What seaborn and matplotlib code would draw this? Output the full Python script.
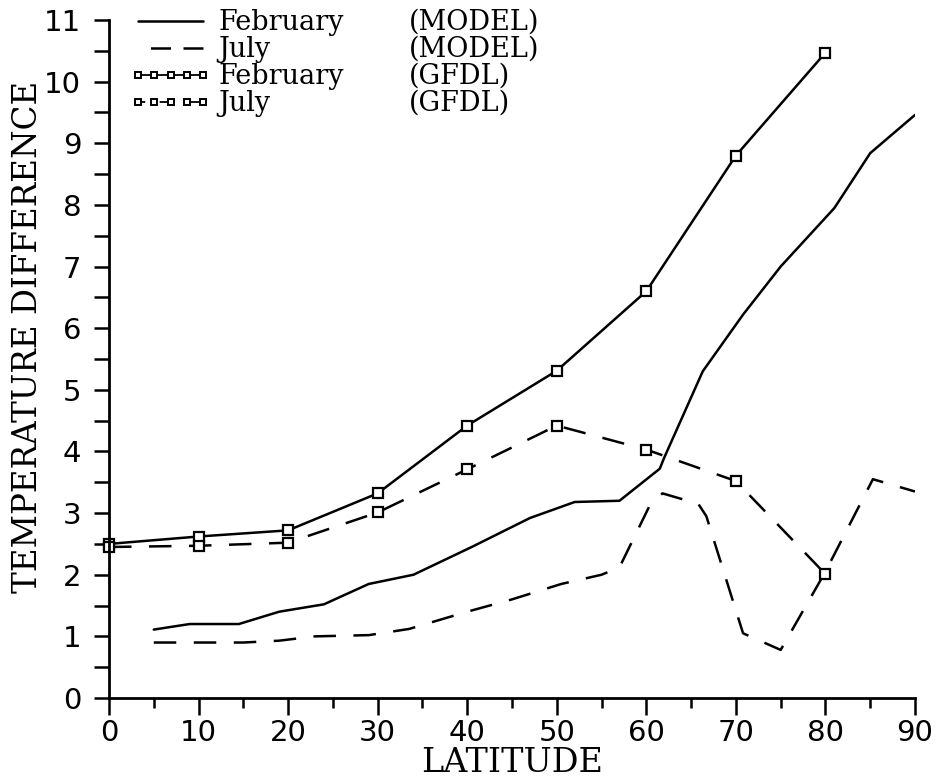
import matplotlib
matplotlib.use("Agg")
import matplotlib.pyplot as plt
from matplotlib.lines import Line2D
from matplotlib.ticker import MultipleLocator
import seaborn as sns

# Model curves (latitude, temperature difference)
feb_model_lat = [5, 9, 14.5, 19, 24, 29, 34, 40.5, 47, 52, 57, 61.5, 62, 66.3, 70.8, 75, 81, 85, 90]
feb_model_dt = [1.11, 1.2, 1.2, 1.4, 1.52, 1.85, 2.0, 2.45, 2.92, 3.18, 3.2, 3.72, 3.9, 5.3, 6.22, 7.0, 7.95, 8.84, 9.46]

jul_model_lat = [5, 15, 19, 23, 29, 33.5, 40, 45, 50.5, 55, 57, 60.3, 61.8, 65.8, 66.7, 70.8, 75, 80, 85.3, 90]
jul_model_dt = [0.9, 0.9, 0.93, 1.0, 1.02, 1.12, 1.4, 1.6, 1.85, 2.0, 2.12, 3.1, 3.32, 3.15, 2.95, 1.05, 0.78, 2.05, 3.55, 3.35]

# GFDL results every 10 degrees
gfdl_lat = [0, 10, 20, 30, 40, 50, 60, 70, 80]
feb_gfdl_dt = [2.5, 2.62, 2.72, 3.32, 4.42, 5.31, 6.6, 8.8, 10.47]
jul_gfdl_dt = [2.45, 2.47, 2.52, 3.01, 3.71, 4.42, 4.03, 3.52, 2.01]

legend_names = ["February", "July", "February", "July"]
legend_sources = ["(MODEL)", "(MODEL)", "(GFDL)", "(GFDL)"]

sns.set_style("ticks", {"axes.edgecolor": "black", "xtick.color": "black",
                        "ytick.color": "black", "text.color": "black",
                        "axes.labelcolor": "black"})
plt.rcParams["font.family"] = ["DejaVu Serif"]

W, H = 938, 781
fig = plt.figure(figsize=(W / 100, H / 100), dpi=100)
ax = fig.add_axes([109 / W, 1 - 698 / H, (915 - 109) / W, (698 - 20) / H])

lw = 1.8
dash = (0, (9, 7))
mk = dict(marker="s", markersize=6.5, markerfacecolor="white",
          markeredgecolor="black", markeredgewidth=1.6)

sns.lineplot(x=feb_model_lat, y=feb_model_dt, ax=ax, color="black", lw=lw,
             sort=False, estimator=None)
sns.lineplot(x=jul_model_lat, y=jul_model_dt, ax=ax, color="black", lw=lw,
             linestyle=dash, sort=False, estimator=None)
sns.lineplot(x=gfdl_lat, y=feb_gfdl_dt, ax=ax, color="black", lw=lw,
             sort=False, estimator=None, clip_on=False, **mk)
sns.lineplot(x=gfdl_lat, y=jul_gfdl_dt, ax=ax, color="black", lw=lw,
             linestyle=dash, sort=False, estimator=None, clip_on=False, **mk)

ax.set_xlim(0, 90)
ax.set_ylim(0, 11)
ax.xaxis.set_major_locator(MultipleLocator(10))
ax.xaxis.set_minor_locator(MultipleLocator(5))
ax.yaxis.set_major_locator(MultipleLocator(1))
ax.yaxis.set_minor_locator(MultipleLocator(0.5))
ax.tick_params(axis="x", which="major", direction="out", length=12, width=1.8, pad=3)
ax.tick_params(axis="x", which="minor", direction="out", length=7, width=1.8)
ax.tick_params(axis="y", which="major", direction="out", length=11, width=1.8, pad=9)
ax.tick_params(axis="y", which="minor", direction="out", length=11, width=1.8)
for lab in ax.get_xticklabels() + ax.get_yticklabels():
    lab.set_fontfamily("DejaVu Sans")
    lab.set_fontsize(21)
    lab.set_color("black")
sns.despine(ax=ax)
for s in ("left", "bottom"):
    ax.spines[s].set_linewidth(2.0)

ax.set_xlabel("LATITUDE", fontsize=24, labelpad=0)
ax.set_ylabel("TEMPERATURE DIFFERENCE", fontsize=23.5)
ax.yaxis.set_label_coords(-0.081, 0.532)

handles = [
    Line2D([], [], color="black", lw=lw),
    Line2D([], [], color="black", lw=lw, linestyle=(8, (8, 5))),
    Line2D([], [], color="black", lw=1.3, marker="s", markersize=4.8,
           markerfacecolor="white", markeredgecolor="black", markeredgewidth=1.4),
    Line2D([], [], color="black", lw=1.3, linestyle=(4, (8, 8)), marker="s", markersize=4.8,
           markerfacecolor="white", markeredgecolor="black", markeredgewidth=1.4),
]
leg_kw = dict(loc="upper left", bbox_transform=fig.transFigure, frameon=False,
              fontsize=19.5, labelspacing=0, borderpad=0, borderaxespad=0)
leg1 = ax.legend(handles, legend_names, bbox_to_anchor=(130 / W, 1 - 9 / H),
                 numpoints=5, handlelength=3.0, handletextpad=0.25, **leg_kw)
ax.add_artist(leg1)
blank = [Line2D([], [], alpha=0) for _ in legend_sources]
ax.legend(blank, legend_sources, bbox_to_anchor=(409 / W, 1 - 9 / H),
          handlelength=0, handletextpad=0, **leg_kw)

fig.savefig("out.png", dpi=100)
